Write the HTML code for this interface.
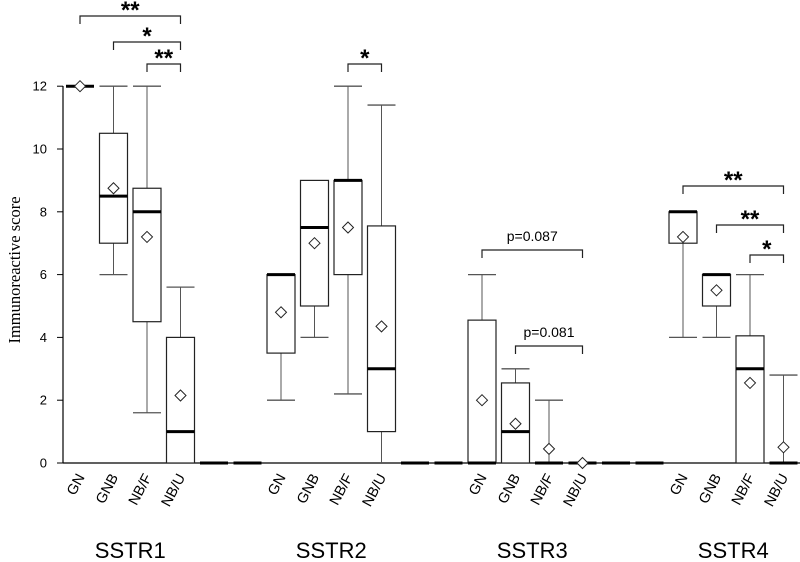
<!DOCTYPE html>
<html><head><meta charset="utf-8"><style>
body{margin:0;background:#fff}
svg{display:block;font-family:"Liberation Sans",sans-serif}
</style></head><body>
<svg id="chart" width="800" height="562" viewBox="0 0 800 562"></svg>
<script>
const groups=["SSTR1","SSTR2","SSTR3","SSTR4"];
const cats=["GN","GNB","NB/F","NB/U"];
const whiskLo=[12,6,1.6,0, 2,4,2.2,0, 0,0,0,0, 4,4,0,0];
const whiskHi=[12,12,12,5.6, 6,9,12,11.4, 6,3,2,0, 8,6,6,2.8];
const q1=[12,7,4.5,0, 3.5,5,6,1, 0,0,0,0, 7,5,0,0];
const q3=[12,10.5,8.75,4, 6,9,9,7.55, 4.55,2.55,0,0, 8,6,4.05,0];
const medians=[12,8.5,8,1, 6,7.5,9,3, 0,1,0,0, 8,6,3,0];
const means=[12,8.75,7.2,2.15, 4.8,7,7.5,4.35, 2,1.25,0.45,0, 7.2,5.5,2.55,0.5];
const yTicks=[0,2,4,6,8,10,12];
const sigFrom=[0,1,2,6,8,9,12,13,14];
const sigTo=[3,3,3,7,11,11,15,15,15];
const sigLabels=["**","*","**","*","p=0.087","p=0.081","**","**","*"];
const sigLevelPx=[16,42,64,64,250,346,186,225,255];

const svg=document.getElementById('chart');
const NS="http://www.w3.org/2000/svg";
function y(v){return 463-v*31.4;}
function slotX(s){return 80+s*33.5;}
function idxSlot(i){return Math.floor(i/4)*6+(i%4);}
function x(i){return slotX(idxSlot(i));}
function el(t,a,txt){const e=document.createElementNS(NS,t);for(const k in a)e.setAttribute(k,a[k]);if(txt!==undefined)e.textContent=txt;svg.appendChild(e);return e;}

let ax=el('line',{x1:63,y1:86,x2:63,y2:463,stroke:'#000','stroke-width':1.2});


let bl=el('line',{x1:63,y1:463,x2:800,y2:463,stroke:'#000','stroke-width':1.2});


yTicks.forEach(v=>{
  let t=el('line',{x1:57,y1:y(v),x2:63,y2:y(v),stroke:'#000'});
  
  
  let l=el('text',{x:47,y:y(v)+4.5,'text-anchor':'end','font-size':13},String(v));
  
  
});
let yt=el('text',{x:0,y:0,'font-size':16.5,'text-anchor':'middle',transform:'translate(20,270) rotate(-90)','font-family':'"Liberation Serif",serif'},'Immunoreactive score');



[4,5,10,11,16,17].forEach(s=>{
  let z=el('line',{x1:slotX(s)-14,y1:463,x2:slotX(s)+14,y2:463,stroke:'#000','stroke-width':3});
  
  
});

for(let i=0;i<16;i++){
  const cx=x(i),hw=14;
  if(whiskHi[i]>q3[i]){
    let w=el('line',{x1:cx,y1:y(q3[i]),x2:cx,y2:y(whiskHi[i]),stroke:'#555'});
    
    
    let c=el('line',{x1:cx-hw,y1:y(whiskHi[i]),x2:cx+hw,y2:y(whiskHi[i]),stroke:'#555','stroke-width':1.3});
    
    
  }
  if(whiskLo[i]<q1[i]){
    let w=el('line',{x1:cx,y1:y(q1[i]),x2:cx,y2:y(whiskLo[i]),stroke:'#555'});
    
    
    if(whiskLo[i]>0){
      let c=el('line',{x1:cx-hw,y1:y(whiskLo[i]),x2:cx+hw,y2:y(whiskLo[i]),stroke:'#555','stroke-width':1.3});
      
      
    }
  }
  if(q3[i]>q1[i]){
    let b=el('rect',{x:cx-hw,y:y(q3[i]),width:2*hw,height:y(q1[i])-y(q3[i]),fill:'#fff',stroke:'#222','stroke-width':1.2});
    
    
  }
  let m=el('line',{x1:cx-hw,y1:y(medians[i]),x2:cx+hw,y2:y(medians[i]),stroke:'#000','stroke-width':3});
  
  
  const my=y(means[i]),d=5.5;
  let mk=el('polygon',{points:`${cx},${my-d} ${cx+d},${my} ${cx},${my+d} ${cx-d},${my}`,fill:'#fff',stroke:'#222','stroke-width':1});
  
  
  let cl=el('text',{x:0,y:0,'font-size':14.5,'text-anchor':'end',transform:`translate(${cx+5},${477}) rotate(-62)`},cats[i%4]);
  
  
}
groups.forEach((g,k)=>{
  const cx=(x(k*4)+x(k*4+3))/2;
  let t=el('text',{x:cx,y:558,'font-size':22,'text-anchor':'middle'},g);
  
  
});
for(let s=0;s<sigFrom.length;s++){
  const x1=x(sigFrom[s]),x2=x(sigTo[s]),ly=sigLevelPx[s];
  let p=el('path',{d:`M${x1},${ly+8}V${ly}H${x2}V${ly+8}`,fill:'none',stroke:'#222','stroke-width':1.2});
  
  
  const isStar=sigLabels[s].startsWith('*');
  let t=el('text',{x:(x1+x2)/2,y:isStar?ly+2:ly-9,'text-anchor':'middle','font-size':isStar?24:14,'font-weight':isStar?'bold':'normal'},sigLabels[s]);
  
  
}
</script>
</body></html>
